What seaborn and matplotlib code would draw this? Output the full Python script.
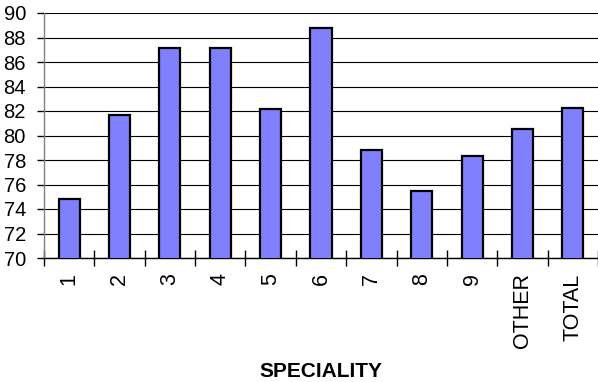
import matplotlib
matplotlib.use("Agg")
import matplotlib.pyplot as plt
from matplotlib.ticker import FixedLocator
import seaborn as sns
import pandas as pd

# Values per speciality
categories = ["1", "2", "3", "4", "5", "6", "7", "8", "9", "OTHER", "TOTAL"]
values = [74.8, 81.65, 87.15, 87.15, 82.15, 88.8, 78.85, 75.5, 78.3, 80.5, 82.25]
y_ticks = list(range(70, 91, 2))

sns.set_style("white")
plt.rcParams["font.family"] = ["Liberation Sans", "DejaVu Sans"]
plt.rcParams["text.color"] = "black"
plt.rcParams["axes.labelcolor"] = "black"
plt.rcParams["xtick.color"] = "black"
plt.rcParams["ytick.color"] = "black"

df = pd.DataFrame({"speciality": categories, "value": values})

fig = plt.figure(figsize=(5.98, 3.82), dpi=100)
ax = fig.add_axes([44 / 598, 1 - 258 / 382, 1 - 44 / 598, (258 - 13) / 382])

sns.barplot(data=df, x="speciality", y="value", order=categories,
            color="#8080FF", saturation=1, width=0.42,
            edgecolor="black", linewidth=1.6, ax=ax, zorder=3)

ax.set_ylim(70, 90)
ax.set_xlim(-0.5, len(categories) - 0.5)
ax.yaxis.set_major_locator(FixedLocator(y_ticks))
ax.grid(axis="y", color="black", linewidth=0.8, zorder=0)
ax.set_axisbelow(True)

for side in ("top", "right"):
    ax.spines[side].set_visible(False)
ax.spines["left"].set_color("#808080")
ax.spines["left"].set_linewidth(1.0)
ax.spines["bottom"].set_color("black")
ax.spines["bottom"].set_linewidth(1.0)

# category boundary ticks crossing the bottom axis
ax.xaxis.set_minor_locator(FixedLocator([i - 0.5 for i in range(len(categories) + 1)]))
ax.tick_params(axis="x", which="minor", direction="inout", length=11, width=1.0,
               color="black", bottom=True)
ax.tick_params(axis="x", which="major", length=0, pad=11, labelsize=15.5,
               labelrotation=90, labelcolor="black", bottom=True)
ax.tick_params(axis="y", which="major", direction="out", length=5, width=1.0,
               color="black", pad=8, labelsize=14.5, labelcolor="black", left=True)

ax.set_xlabel("SPECIALITY", fontsize=15, fontweight="bold", labelpad=10, color="black")
ax.set_ylabel("")

fig.savefig("out.png", dpi=100)
